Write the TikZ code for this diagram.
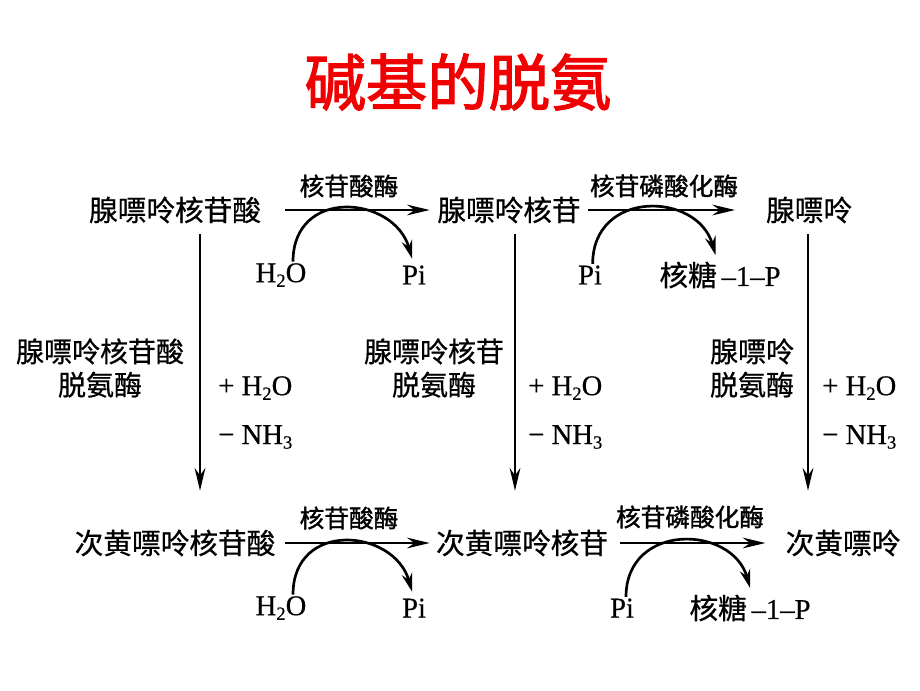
\documentclass[tikz,border=0pt]{standalone}
\usepackage{fontspec}
\setmainfont{Liberation Serif}
\newfontfamily\cjk[FakeBold=0.6]{Noto Sans CJK SC}
\newfontfamily\cjkenz[FakeBold=1.4]{Noto Sans CJK SC}
\newfontfamily\cjktitle[FakeBold=2]{Noto Sans CJK SC}
\newfontfamily\chemfont[FakeBold=0.5,Ligatures=TeX]{Liberation Serif}
\usetikzlibrary{%
  arrows.meta,%
  positioning%
}
\definecolor{titlered}{RGB}{240,0,0}
\newcommand{\water}{H\raisebox{-0.35ex}{\fontsize{14}{14}\selectfont 2}O}
\newcommand{\ammonia}{NH\raisebox{-0.35ex}{\fontsize{14}{14}\selectfont 3}}
\newcommand{\ribp}{{\cjk 核糖}\,–1–P}

\begin{document}
\begin{tikzpicture}[x=0.75pt,y=-0.75pt,
  compound/.style={inner sep=0pt, font=\cjk\fontsize{21.5}{24}\selectfont},
  enzyme/.style={inner sep=0pt, font=\cjkenz\fontsize{18.5}{21}\selectfont},
  sidelabel/.style={inner sep=0pt, align=center, font=\cjk\fontsize{21}{25}\selectfont},
  chem/.style={inner sep=0pt, font=\chemfont\fontsize{21.5}{24}\selectfont},
  flow/.style={-{Stealth[length=17pt,width=8pt]}, line width=2pt},
  swing/.style={-{Stealth[length=14pt,width=8pt]}, line width=2pt}
  ]
  \useasboundingbox (0,0) rectangle (920,690);

  \node[font=\cjktitle\fontsize{46}{50}\selectfont, text=titlered] (title) at (458,82) {碱基的脱氨};

  % compounds
  \node[compound] (amp) at (175,210) {腺嘌呤核苷酸};
  \node[compound] (ado) at (509,210) {腺嘌呤核苷};
  \node[compound] (ade) at (809,210) {腺嘌呤};
  \node[compound] (imp) at (175,543) {次黄嘌呤核苷酸};
  \node[compound] (ino) at (522,543) {次黄嘌呤核苷};
  \node[compound] (hyp) at (843,543) {次黄嘌呤};

  % enzymes on the horizontal steps
  \node[enzyme] (ntaseA) at (349,186) {核苷酸酶};
  \node[enzyme] (pnpA)   at (664,186) {核苷磷酸化酶};
  \node[enzyme] (ntaseB) at (349,518) {核苷酸酶};
  \node[enzyme] (pnpB)   at (690,517) {核苷磷酸化酶};

  % side substances
  \node[chem] (h2oA) at (281,275) {\water};
  \node[chem] (piA)  at (414,275) {Pi};
  \node[chem] (piC)  at (590,275) {Pi};
  \node[chem] (rpA)  at (720,275) {\ribp};
  \node[chem] (h2oB) at (281,608) {\water};
  \node[chem] (piB)  at (414,608) {Pi};
  \node[chem] (piD)  at (622,608) {Pi};
  \node[chem] (rpB)  at (750,608) {\ribp};

  % deaminases
  \node[sidelabel] (adaA) at (100,368) {腺嘌呤核苷酸\\脱氨酶};
  \node[sidelabel] (adaB) at (434,368) {腺嘌呤核苷\\脱氨酶};
  \node[sidelabel] (adaC) at (752,368) {腺嘌呤\\脱氨酶};
  \node[chem, anchor=west] (addA) at (218,388) {+ \water};
  \node[chem, anchor=west] (remA) at (218,437) {− \ammonia};
  \node[chem, anchor=west] (addB) at (528,388) {+ \water};
  \node[chem, anchor=west] (remB) at (528,437) {− \ammonia};
  \node[chem, anchor=west] (addC) at (822,388) {+ \water};
  \node[chem, anchor=west] (remC) at (822,437) {− \ammonia};

  % horizontal steps
  \draw[flow, shorten <=18pt, shorten >=5.5pt] (amp) -- (ado);
  \draw[flow, shorten <=5.5pt, shorten >=23pt] (ado) -- (ade);
  \draw[flow, shorten <=7pt, shorten >=4.5pt] (imp) -- (ino);
  \draw[flow, shorten <=9pt, shorten >=15pt] (ino) -- (hyp);

  % side reactions
  \draw[swing, shorten <=1pt, shorten >=5pt] ([xshift=9pt]h2oA.north)
    .. controls +(0,-76) and +(-20,-70) .. (piA.north);
  \draw[swing, shorten <=1pt, shorten >=5pt] ([xshift=2pt]piC.north)
    .. controls +(0,-76) and +(-20,-70) .. ([xshift=-2pt]rpA.north);
  \draw[swing, shorten <=1pt, shorten >=5pt] ([xshift=9pt]h2oB.north)
    .. controls +(0,-76) and +(-20,-70) .. (piB.north);
  \draw[swing, shorten <=1pt, shorten >=5pt] ([xshift=3pt]piD.north)
    .. controls +(0,-76) and +(-20,-70) .. ([xshift=1.5pt]rpB.north);

  % deamination
  \draw[flow, shorten <=8pt, shorten >=29pt] ([xshift=18.75pt]amp.south) -- ([xshift=18.75pt]imp.north);
  \draw[flow, shorten <=8pt, shorten >=29pt] ([xshift=4.5pt]ado.south) -- ([xshift=-5.25pt]ino.north);
  \draw[flow, shorten <=8pt, shorten >=29pt] ([xshift=-0.75pt]ade.south) -- ([xshift=-26.25pt]hyp.north);
\end{tikzpicture}
\end{document}
